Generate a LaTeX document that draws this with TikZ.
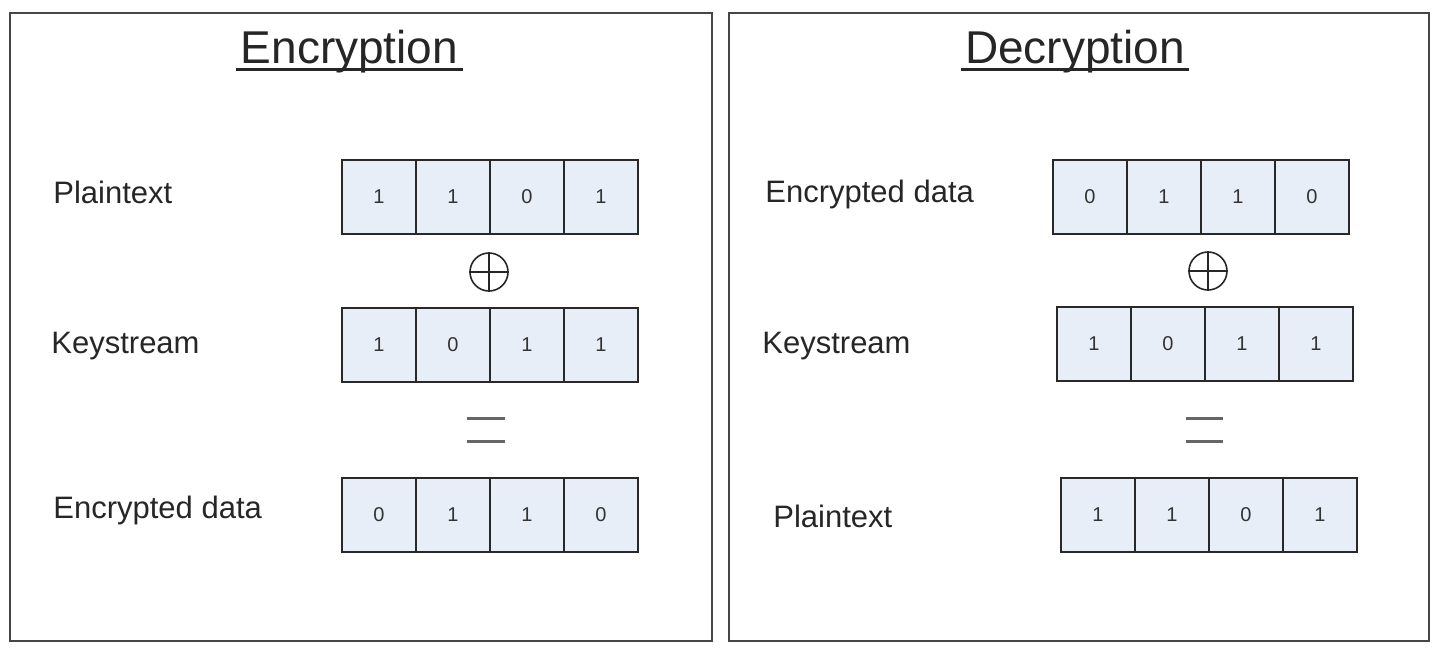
\documentclass[tikz,border=0pt]{standalone}
\usepackage{fontspec}
\setmainfont{Liberation Sans}
\usepackage{tikz}
\usetikzlibrary{positioning,calc}

\definecolor{cellfill}{RGB}{232,238,248}
\definecolor{celldraw}{RGB}{40,40,40}
\definecolor{framedraw}{RGB}{70,70,70}

\tikzset{
	bitcell/.style={draw=celldraw, fill=cellfill, line width=1pt, minimum width=37pt, minimum height=37pt, inner sep=0pt, outer sep=0pt, text=black!80, font=\fontsize{10}{11}\selectfont},
	lbl/.style={anchor=base west, inner sep=0pt, text=black!85, font=\fontsize{15.5}{17}\selectfont},
	ttl/.style={anchor=base, inner sep=0pt, text=black!85, font=\fontsize{23}{26}\selectfont},
	frame/.style={draw=framedraw, line width=1pt},
	xorsym/.style={circle, draw=black!85, line width=0.8pt, minimum size=19pt, inner sep=0pt},
	eqline/.style={draw=black!60, line width=1.5pt}
}

\begin{document}
\begin{tikzpicture}[x=0.5pt, y=-0.5pt]
	\useasboundingbox (0,0) rectangle (1435,648); % Rand um Grafik
	
	\draw[frame] (10,13) rectangle (712,641); % Rahmen links
	\draw[frame] (729,13) rectangle (1429,641); % Rahmen rechts
	
	% Verschluesselung
	\node[ttl] (ttlEnc) at (349.5,63) {Encryption};
	\draw[line width=1.5pt, black!85] ([xshift=-2pt,yshift=-3pt]ttlEnc.base west) -- ([xshift=2pt,yshift=-3pt]ttlEnc.base east);
	
	\node[lbl] (lblEncP) at (53,203) {Plaintext};
	\node[lbl] (lblEncK) at (51,353) {Keystream};
	\node[lbl] (lblEncC) at (53,518) {Encrypted data};
	
	\foreach \b [count=\i] in {1,1,0,1}
		\node[bitcell] (encP\i) at ({379+74*(\i-1)},197) {\b};
	\foreach \b [count=\i] in {1,0,1,1}
		\node[bitcell] (encK\i) at ({379+74*(\i-1)},345) {\b};
	\foreach \b [count=\i] in {0,1,1,0}
		\node[bitcell] (encC\i) at ({379+74*(\i-1)},515) {\b};
	
	\node[xorsym] (xorEnc) at (489,272) {};
	\draw[black!85, line width=0.8pt] (xorEnc.north) -- (xorEnc.south) (xorEnc.west) -- (xorEnc.east);
	
	\draw[eqline] (467,418) -- (505,418);
	\draw[eqline] (467,441) -- (505,441);
	
	% Entschluesselung
	\node[ttl] (ttlDec) at (1075,63) {Decryption};
	\draw[line width=1.5pt, black!85] ([xshift=-2pt,yshift=-3pt]ttlDec.base west) -- ([xshift=2pt,yshift=-3pt]ttlDec.base east);
	
	\node[lbl] (lblDecC) at (765,202) {Encrypted data};
	\node[lbl] (lblDecK) at (762,353) {Keystream};
	\node[lbl] (lblDecP) at (773,527) {Plaintext};
	
	\foreach \b [count=\i] in {0,1,1,0}
		\node[bitcell] (decC\i) at ({1090+74*(\i-1)},197) {\b};
	\foreach \b [count=\i] in {1,0,1,1}
		\node[bitcell] (decK\i) at ({1094+74*(\i-1)},344) {\b};
	\foreach \b [count=\i] in {1,1,0,1}
		\node[bitcell] (decP\i) at ({1098+74*(\i-1)},515) {\b};
	
	\node[xorsym] (xorDec) at (1208,271) {};
	\draw[black!85, line width=0.8pt] (xorDec.north) -- (xorDec.south) (xorDec.west) -- (xorDec.east);
	
	\draw[eqline] (1186,418) -- (1223,418);
	\draw[eqline] (1186,441) -- (1223,441);
	
	%\draw[help lines, step=50] (0,0) grid (1435,648);
\end{tikzpicture}
\end{document}
